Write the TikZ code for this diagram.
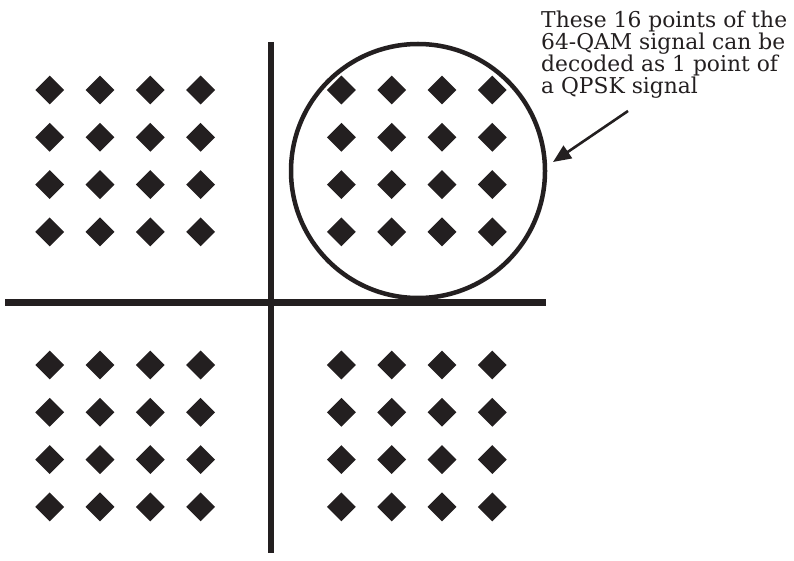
\documentclass[tikz,border=0pt]{standalone}
\usepackage{fontspec}
\setmainfont{DejaVu Serif}
\usetikzlibrary{shapes.geometric,arrows.meta}
\definecolor{ink}{HTML}{231F20}
\begin{document}
\begin{tikzpicture}[x=1pt,y=-1pt,
  pt/.style={diamond, fill=ink, inner sep=0pt, minimum size=29pt},
  axis/.style={draw=ink, line width=6.5pt},
  ring/.style={circle, draw=ink, line width=4.5pt, inner sep=0pt, minimum size=254pt},
  callout/.style={draw=ink, line width=2.6pt, -{Triangle[length=18pt,width=15pt]}},
  note/.style={anchor=base west, align=left, inner sep=0pt, text=ink, font=\fontsize{21.8}{22}\selectfont}]
\useasboundingbox (0,0) rectangle (794,561);
% axes
\coordinate (ytop) at (271,42);
\coordinate (ybot) at (271,553);
\coordinate (xl) at (5,302.5);
\coordinate (xr) at (545.5,302.5);
\draw[axis] (ytop) -- (ybot);
\draw[axis] (xl) -- (xr);
% constellation points
\foreach \q/\x/\y in {tl/49.7/90, tr/341.4/90, bl/49.7/365, br/341.4/365}{
  \foreach \i in {0,1,2,3}{
    \foreach \j in {0,1,2,3}{
      \node[pt] (p-\q-\i-\j) at ({\x+50.3*\i},{\y+47.3*\j}) {};
    }
  }
}
% circle round the upper right quadrant
\node[ring] (ring) at (418,171) {};
% callout (base anchor of a multi-line node is the last line's baseline)
\node[note] (note) at (541,94) {These 16 points of the\\64-QAM signal can be\\decoded as 1 point of\\a QPSK signal};
\coordinate (tail) at (628,111);
\coordinate (tip) at (553,162);
\draw[callout] (tail) -- (tip);
\end{tikzpicture}
\end{document}
